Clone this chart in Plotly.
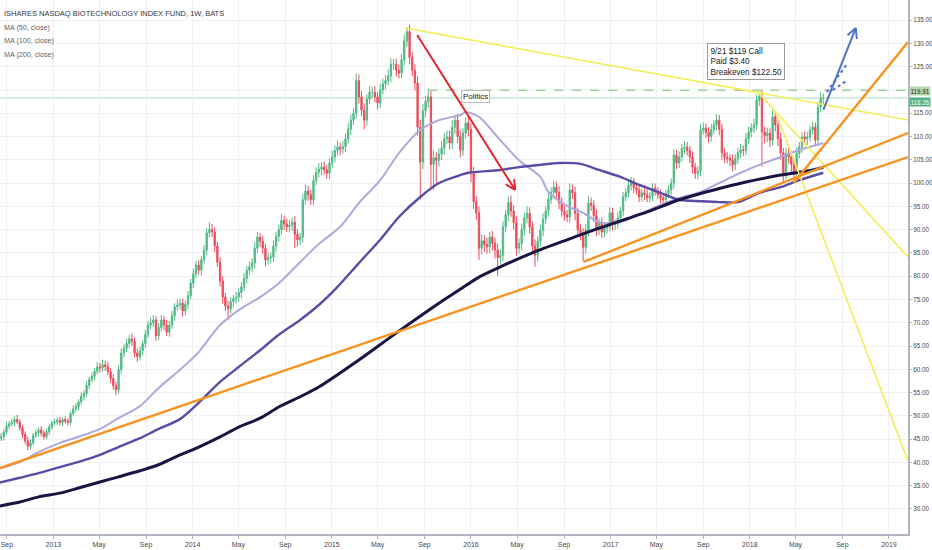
import math
import pandas as pd
import plotly.graph_objects as go

# ---------------- data ----------------
closes = [
    45.2, 45.5, 46.5, 47.8, 48.3, 48.6, 49.2, 48.7, 47.5, 46.0,
    44.6, 43.5, 44.2, 45.8, 46.4, 47.0, 46.3, 45.5, 46.6, 47.6,
    48.5, 48.7, 49.0, 48.6, 49.2, 48.9, 48.6, 50.5, 51.5, 52.0,
    53.0, 54.2, 54.8, 56.5, 57.8, 58.5, 59.6, 60.5, 60.3, 61.0,
    60.6, 59.5, 58.0, 56.5, 55.6, 59.9, 63.5, 64.5, 65.5, 66.5,
    66.0, 63.5, 62.7, 64.0, 65.5, 67.5, 69.5, 70.0, 70.6, 67.2,
    69.0, 70.6, 69.5, 68.0, 69.5, 71.5, 73.4, 73.8, 74.2, 72.5,
    74.0, 75.8, 78.5, 80.5, 82.4, 81.3, 83.5, 85.6, 89.3, 90.0,
    89.5, 86.5, 83.0, 79.0, 75.5, 73.6, 73.0, 74.5, 75.2, 75.5,
    76.5, 77.7, 79.5, 81.3, 82.0, 82.8, 86.0, 88.4, 87.5, 86.0,
    83.5, 84.0, 84.1, 86.5, 88.5, 90.0, 92.0, 91.2, 90.6, 91.0,
    91.6, 89.0, 87.8, 88.4, 96.4, 98.3, 97.5, 96.4, 100.5, 102.3,
    103.0, 103.4, 102.8, 102.1, 104.3, 105.6, 107.0, 107.7, 107.3, 107.8,
    109.5, 111.6, 113.5, 115.0, 122.0, 118.5, 115.7, 113.5, 118.0, 119.5,
    119.5, 118.5, 117.2, 120.0, 121.3, 122.0, 123.0, 125.5, 125.5, 124.2,
    123.6, 126.5, 130.5, 132.5, 127.0, 124.2, 121.5, 112.0, 104.5, 115.5,
    117.5, 118.5, 104.0, 105.4, 104.9, 106.2, 107.5, 109.5, 109.9, 108.6,
    112.0, 113.5, 110.0, 107.1, 110.7, 112.9, 111.5, 102.0, 96.0, 93.6,
    86.0, 87.6, 86.8, 86.3, 88.4, 87.1, 85.6, 84.0, 84.5, 90.6,
    93.2, 95.8, 94.0, 91.5, 86.0, 87.0, 90.0, 92.5, 93.5, 90.6,
    86.5, 84.5, 87.5, 89.8, 92.3, 94.0, 96.5, 98.0, 99.1, 98.0,
    95.8, 94.0, 93.2, 92.7, 98.5, 97.9, 93.5, 90.0, 89.3, 86.2,
    89.9, 95.7, 95.2, 93.0, 89.9, 91.4, 89.5, 90.3, 90.6, 93.6,
    91.0, 91.2, 92.5, 94.0, 97.0, 97.9, 99.5, 100.2, 99.0, 98.5,
    97.0, 97.9, 97.5, 96.8, 97.2, 98.9, 98.2, 97.5, 96.8, 96.4,
    97.7, 98.5, 100.0, 106.0, 104.3, 105.6, 107.4, 107.7, 107.0, 105.6,
    103.4, 102.1, 102.5, 111.4, 111.8, 110.9, 110.0, 111.5, 112.5, 113.5,
    111.5, 106.5, 105.5, 105.3, 104.9, 103.9, 105.2, 106.5, 107.1, 107.0,
    109.5, 111.0, 111.8, 112.5, 117.8, 118.6, 111.0, 110.2, 110.7, 109.2,
    114.2, 112.5, 109.5, 106.5, 102.1, 106.4, 105.6, 104.0, 102.1, 106.4,
    107.7, 109.9, 109.5, 109.9, 111.4, 112.0, 109.2, 116.3, 118.2, 118.26,
]
first_open = 44.8

wick_up = [
    0.6, 0.8, 0.7, 0.9, 0.6, 0.8, 0.7, 1.0, 0.6, 0.5,
    0.7, 0.9, 0.8, 0.6, 0.7, 0.5, 0.8, 0.6, 0.7, 0.6,
    0.5, 0.7, 0.6, 0.8, 0.5, 0.7, 0.6, 0.5, 0.8, 0.7,
    0.6, 0.8, 0.7, 0.9, 0.6, 0.8, 0.7, 1.0, 0.9, 1.1,
    0.8, 1.0, 0.7, 0.9, 0.8, 0.9, 1.0, 0.8, 1.1, 0.9,
    1.2, 0.8, 1.0, 0.9, 0.8, 1.0, 0.9, 1.1, 1.0, 0.8,
    0.9, 1.0, 0.8, 1.1, 0.9, 1.0, 0.8, 1.2, 0.9, 1.0,
    0.8, 1.0, 0.9, 1.1, 0.9, 1.0, 0.8, 1.1, 1.0, 1.6,
    1.2, 1.0, 0.9, 1.1, 1.0, 0.9, 1.2, 1.0, 0.8, 1.1,
    0.9, 1.0, 1.2, 0.9, 1.1, 1.0, 1.3, 1.1, 0.9, 1.2,
    1.0, 1.1, 0.9, 1.2, 1.0, 1.1, 1.3, 1.0, 1.2, 1.1,
    1.0, 1.3, 1.1, 0.9, 1.2, 1.4, 1.1, 1.0, 1.2, 1.1,
    1.3, 1.0, 1.2, 1.1, 1.0, 1.3, 1.1, 1.4, 1.0, 1.2,
    1.1, 1.3, 1.2, 1.0, 1.5, 1.3, 1.2, 1.4, 1.1, 1.3,
    1.2, 1.4, 1.0, 1.3, 1.1, 1.2, 1.4, 1.3, 1.1, 1.2,
    1.3, 1.2, 1.4, 0.9, 1.5, 1.2, 1.3, 1.4, 1.6, 1.5,
    1.2, 1.8, 1.4, 1.6, 1.2, 1.3, 1.5, 1.2, 1.4, 1.3,
    1.5, 1.2, 1.4, 1.3, 1.1, 1.2, 1.4, 1.3, 1.5, 1.2,
    1.4, 1.3, 1.2, 1.5, 1.1, 1.3, 1.2, 1.4, 1.3, 1.2,
    1.1, 1.3, 1.5, 1.2, 1.4, 1.1, 1.3, 1.2, 1.5, 1.3,
    1.2, 1.4, 1.1, 1.3, 1.2, 1.0, 1.3, 1.1, 1.4, 1.2,
    1.3, 1.1, 1.2, 1.0, 1.4, 1.2, 1.3, 1.1, 1.2, 1.0,
    1.3, 1.5, 1.2, 1.1, 1.3, 1.0, 1.2, 1.1, 1.0, 1.2,
    1.1, 1.0, 1.2, 0.9, 1.1, 1.0, 1.2, 1.1, 0.9, 1.0,
    1.1, 0.9, 1.0, 1.2, 0.9, 1.1, 1.0, 0.9, 1.1, 1.0,
    0.9, 1.1, 1.0, 1.3, 1.1, 1.2, 1.0, 1.3, 1.1, 1.0,
    1.2, 1.0, 1.1, 1.3, 1.2, 1.0, 1.1, 1.2, 1.0, 1.3,
    1.1, 1.2, 1.0, 1.1, 0.9, 1.2, 1.0, 1.1, 1.3, 1.0,
    1.2, 1.1, 1.0, 1.3, 1.2, 1.0, 1.4, 1.1, 1.2, 1.0,
    1.5, 1.2, 1.1, 1.3, 1.0, 1.2, 1.1, 1.3, 1.0, 1.2,
    1.1, 1.0, 1.2, 1.1, 0.9, 1.2, 1.0, 1.1, 1.3, 1.0,
]
wick_dn = [
    0.7, 0.6, 0.8, 0.5, 0.7, 0.6, 0.8, 0.5, 0.7, 0.8,
    0.6, 0.9, 0.7, 0.5, 0.6, 0.8, 0.7, 0.6, 0.5, 0.7,
    0.6, 0.5, 0.7, 0.6, 0.8, 0.5, 0.7, 0.6, 0.5, 0.7,
    0.8, 0.6, 0.9, 0.7, 0.8, 0.6, 0.9, 0.7, 1.0, 0.8,
    0.9, 0.8, 1.0, 0.9, 1.2, 0.8, 0.9, 1.0, 0.8, 0.9,
    1.0, 0.9, 1.1, 0.8, 1.0, 0.9, 0.8, 1.0, 0.9, 1.1,
    1.0, 0.8, 1.1, 0.9, 1.0, 0.8, 1.1, 0.9, 1.0, 1.2,
    0.9, 1.0, 0.8, 1.1, 0.9, 1.0, 1.2, 0.9, 1.1, 1.0,
    1.1, 1.3, 1.0, 1.2, 1.4, 1.1, 2.5, 1.0, 1.2, 1.1,
    1.0, 1.2, 0.9, 1.1, 1.0, 1.2, 1.1, 1.0, 1.3, 1.2,
    1.4, 1.1, 1.3, 1.0, 1.2, 1.1, 1.0, 1.3, 1.1, 1.2,
    1.3, 3.0, 1.4, 1.1, 1.2, 1.0, 1.3, 1.1, 1.2, 1.0,
    1.1, 1.3, 1.0, 1.2, 1.1, 1.0, 1.2, 1.1, 1.3, 1.0,
    1.2, 1.1, 1.3, 1.0, 1.2, 1.4, 1.3, 2.0, 1.2, 1.1,
    1.3, 1.2, 1.4, 1.1, 1.0, 1.2, 1.1, 1.3, 1.2, 1.4,
    1.2, 1.1, 1.3, 1.2, 1.5, 1.3, 1.6, 1.8, 8.0, 1.5,
    1.4, 1.3, 5.0, 5.5, 5.0, 1.4, 1.3, 1.5, 1.2, 1.4,
    1.3, 1.5, 1.4, 1.6, 1.3, 1.2, 1.5, 1.8, 1.6, 1.5,
    2.5, 1.4, 1.6, 1.5, 1.3, 1.6, 1.8, 4.0, 1.5, 1.3,
    1.2, 1.4, 1.3, 1.5, 1.6, 1.2, 1.4, 1.3, 1.2, 1.5,
    1.6, 2.5, 1.4, 1.2, 1.3, 1.1, 1.2, 1.0, 1.3, 1.2,
    1.4, 1.2, 1.3, 1.1, 1.2, 1.3, 1.5, 1.4, 1.6, 3.0,
    1.4, 1.3, 1.2, 1.4, 1.3, 1.1, 1.3, 1.2, 1.1, 1.0,
    1.2, 1.1, 1.0, 1.2, 1.1, 0.9, 1.0, 1.1, 1.2, 1.0,
    1.1, 1.0, 1.2, 0.9, 1.0, 1.1, 0.9, 1.0, 1.2, 1.1,
    1.0, 0.9, 1.1, 1.2, 1.3, 1.1, 1.0, 1.2, 1.1, 1.3,
    1.4, 1.2, 1.3, 1.1, 1.0, 1.2, 1.3, 1.1, 1.0, 1.2,
    1.3, 1.5, 1.2, 1.1, 1.3, 1.4, 1.2, 1.0, 1.1, 1.2,
    1.0, 1.1, 1.2, 1.0, 1.1, 1.3, 7.5, 1.6, 1.4, 1.5,
    1.2, 1.4, 1.6, 1.5, 1.8, 1.3, 1.4, 1.6, 1.5, 1.2,
    1.1, 1.2, 1.0, 1.3, 1.1, 1.0, 1.4, 1.2, 1.1, 1.3,
]
last_bar_date = "2018-07-13"

# moving averages, sampled at week indices of the candle series
ma50_week = [0, 8, 15, 23, 30, 38, 45, 53, 60, 68, 75, 83, 90, 98, 105, 113, 120, 128, 135, 143,
             150, 158, 165, 173, 175, 180, 188, 195, 203, 206, 213, 219, 225, 233, 240, 248, 255,
             263, 270, 278, 285, 293, 300, 309]
ma50_val = [38.6, 40.1, 42.2, 44.2, 45.5, 47.2, 49.5, 52.1, 56.0, 59.9, 63.7, 69.5, 72.7, 75.5, 78.5,
            83.0, 86.9, 90.6, 95.7, 100.6, 106.4, 111.4, 113.5, 114.6, 115.2, 114.2, 109.2, 104.9,
            101.3, 98.1, 95.1, 93.6, 91.6, 91.6, 93.3, 95.3, 96.8, 98.1, 100.0, 102.2, 103.9, 105.6,
            107.1, 108.6]
ma100_week = [0, 8, 15, 23, 30, 38, 45, 53, 60, 68, 75, 83, 90, 98, 105, 113, 120, 127, 135, 143,
              150, 158, 165, 173, 176, 188, 195, 203, 210, 218, 225, 233, 240, 248, 255, 263, 270,
              277, 285, 293, 300, 309]
ma100_val = [35.6, 36.7, 37.7, 39.0, 40.1, 41.6, 43.3, 45.2, 47.2, 49.3, 52.8, 57.3, 60.5, 64.1, 67.4,
             70.6, 73.8, 77.7, 82.8, 87.8, 92.7, 97.0, 100.0, 101.7, 102.2, 102.8, 103.4, 103.9,
             104.3, 104.1, 102.8, 101.3, 99.6, 97.9, 96.4, 96.1, 95.9, 95.9, 97.9, 99.1, 100.6, 102.2]
ma200_week = [0, 8, 15, 23, 30, 38, 45, 53, 60, 68, 75, 83, 90, 98, 105, 113, 120, 135, 150, 165,
              172, 180, 188, 200, 213, 225, 243, 255, 268, 280, 293, 305, 309]
ma200_val = [30.6, 31.5, 32.6, 33.4, 34.5, 35.8, 36.9, 38.2, 39.5, 41.6, 43.3, 45.5, 47.6, 49.5, 51.9,
             54.1, 56.2, 62.0, 68.2, 74.2, 76.8, 79.8, 82.0, 85.0, 87.8, 90.3, 93.8, 96.4, 98.5,
             100.2, 101.7, 102.8, 103.4]

# drawn trend lines: (start date, start price) -> (end date, end price)
trend_x0 = ["2015-07-13", "2018-01-22", "2018-03-10", "2012-08-14", "2016-10-22", "2018-04-26"]
trend_y0 = [133.28, 119.54, 115.25, 38.8, 83.04, 100.0]
trend_x1 = ["2019-02-20", "2019-02-20", "2019-02-20", "2019-02-20", "2019-02-20", "2019-02-20"]
trend_y1 = [113.53, 84.11, 40.3, 105.58, 110.74, 130.28]
trend_kind = ["yellow", "yellow", "yellow", "orange", "orange", "orange"]

# arrows
red_arrow = [("2015-08-13", 131.78), ("2016-04-26", 98.5)]
blue_arrow = [("2018-07-13", 115.68), ("2018-10-06", 133.28)]
blue_dots_x0 = ["2018-07-22", "2018-08-07"]
blue_dots_y0 = [119.54, 119.97]
blue_dots_x1 = ["2018-09-15", "2018-09-15"]
blue_dots_y1 = [125.77, 122.12]

# price levels
level_high = 119.91
level_last = 118.26
level_high_start = "2015-09-11"

# notes
politics_pos = ("2016-01-13", 118.62)
call_pos = ("2017-09-10", 130.06)
call_text = "9/21 $119 Call<br>Paid $3.40<br>Breakeven $122.50"

# axes
x_range = ["2012-08-14", "2019-02-20"]
y_range = [24.63, 139.30]
x_tick_dates = ["2012-09-01", "2013-01-01", "2013-05-01", "2013-09-01", "2014-01-01", "2014-05-01",
                "2014-09-01", "2015-01-01", "2015-05-01", "2015-09-01", "2016-01-01", "2016-05-01",
                "2016-09-01", "2017-01-01", "2017-05-01", "2017-09-01", "2018-01-01", "2018-05-01",
                "2018-09-01", "2019-01-01"]
x_tick_labels = ["Sep", "2013", "May", "Sep", "2014", "May", "Sep", "2015", "May", "Sep", "2016",
                 "May", "Sep", "2017", "May", "Sep", "2018", "May", "Sep", "2019"]
y_tick_vals = [30, 35, 40, 45, 50, 55, 60, 65, 70, 75, 80, 85, 90, 95, 100, 105, 110, 115,
               125, 130, 135]
y_hidden_grid = [120]

header_lines = ["ISHARES NASDAQ BIOTECHNOLOGY INDEX FUND, 1W, BATS",
                "MA (50, close)", "MA (100, close)", "MA (200, close)"]

# ---------------- build ----------------
W, H = 932, 550
ML, MR, MT, MB = 0, 24, 0, 16
PW, PH = W - ML - MR, H - MT - MB

FONT = "Liberation Sans, Arial, sans-serif"
UP, DOWN = "#53b987", "#eb4d5c"
YELLOW, ORANGE = "#f4ee55", "#f7931e"
AXIS = "#b2b5be"
GRID = "#eef0f5"

dates = pd.date_range(end=last_bar_date, periods=len(closes), freq="7D")
opens = [first_open] + closes[:-1]
highs = [max(o, c) + u for o, c, u in zip(opens, closes, wick_up)]
lows = [min(o, c) - d for o, c, d in zip(opens, closes, wick_dn)]

fig = go.Figure()
fig.add_trace(go.Candlestick(
    x=dates, open=opens, high=highs, low=lows, close=closes,
    increasing=dict(line=dict(color=UP, width=1), fillcolor=UP),
    decreasing=dict(line=dict(color=DOWN, width=1), fillcolor=DOWN),
    whiskerwidth=0, hoverinfo="skip", showlegend=False,
))

for weeks, vals, color, width in [
    (ma50_week, ma50_val, "#b2a7dc", 2.0),
    (ma100_week, ma100_val, "#5a4ca6", 2.4),
    (ma200_week, ma200_val, "#1a1444", 3.0),
]:
    fig.add_trace(go.Scatter(
        x=[dates[i] for i in weeks], y=vals, mode="lines",
        line=dict(color=color, width=width, shape="spline", smoothing=0.8),
        hoverinfo="skip", showlegend=False,
    ))

shapes = []
for gv in y_hidden_grid:
    shapes.append(dict(type="line", xref="paper", yref="y", x0=0, x1=1, y0=gv, y1=gv,
                       line=dict(color=GRID, width=1), layer="below"))
# price level lines
shapes.append(dict(type="line", xref="paper", yref="y", x0=0, x1=1, y0=level_last, y1=level_last,
                   line=dict(color="#a9dccb", width=1), layer="below"))
shapes.append(dict(type="line", xref="x", yref="y", x0=level_high_start, x1=x_range[1],
                   y0=level_high, y1=level_high,
                   line=dict(color="#9fcf9a", width=1.6, dash="dash")))

for x0, y0, x1, y1, kind in zip(trend_x0, trend_y0, trend_x1, trend_y1, trend_kind):
    col, wd = (YELLOW, 1.6) if kind == "yellow" else (ORANGE, 2.4)
    shapes.append(dict(type="line", xref="x", yref="y", x0=x0, y0=y0, x1=x1, y1=y1,
                       line=dict(color=col, width=wd)))

# pixel <-> data helpers for arrow heads
t0 = pd.Timestamp(x_range[0])
span_days = (pd.Timestamp(x_range[1]) - t0).total_seconds() / 86400.0
px_per_day = PW / span_days
px_per_unit = PH / (y_range[1] - y_range[0])


def to_px(d, v):
    return ((pd.Timestamp(d) - t0).total_seconds() / 86400.0 * px_per_day,
            (y_range[1] - v) * px_per_unit)


def to_data(px, py):
    return (t0 + pd.Timedelta(days=px / px_per_day), y_range[1] - py / px_per_unit)


def add_arrow(start, end, color, width, head=11, ang=27):
    shapes.append(dict(type="line", xref="x", yref="y", x0=start[0], y0=start[1],
                       x1=end[0], y1=end[1], line=dict(color=color, width=width)))
    sx, sy = to_px(*start)
    ex, ey = to_px(*end)
    dx, dy = sx - ex, sy - ey
    n = math.hypot(dx, dy)
    dx, dy = dx / n, dy / n
    for a in (ang, -ang):
        r = math.radians(a)
        wx = dx * math.cos(r) - dy * math.sin(r)
        wy = dx * math.sin(r) + dy * math.cos(r)
        hx, hy = to_data(ex + wx * head, ey + wy * head)
        shapes.append(dict(type="line", xref="x", yref="y", x0=end[0], y0=end[1],
                           x1=hx, y1=hy, line=dict(color=color, width=width)))


add_arrow(red_arrow[0], red_arrow[1], "#e3262e", 2.0)
add_arrow(blue_arrow[0], blue_arrow[1], "#4d74c4", 2.0)
for x0, y0, x1, y1 in zip(blue_dots_x0, blue_dots_y0, blue_dots_x1, blue_dots_y1):
    shapes.append(dict(type="line", xref="x", yref="y", x0=x0, y0=y0, x1=x1, y1=y1,
                       line=dict(color="#4d74c4", width=2, dash="dot")))

annotations = []
header_sizes = [7.5, 7.2, 7.2, 7.2]
for i, txt in enumerate(header_lines):
    annotations.append(dict(
        xref="paper", yref="paper", x=3 / PW, y=1 - (14 + 13.5 * i) / PH,
        xanchor="left", yanchor="middle", showarrow=False, text=txt, borderpad=0,
        font=dict(family=FONT, size=header_sizes[i], color="#33363f" if i == 0 else "#5f626c"),
    ))
annotations.append(dict(
    x=politics_pos[0], y=politics_pos[1], xref="x", yref="y", showarrow=False,
    text="Politics", font=dict(family=FONT, size=8, color="#222222"),
    bgcolor="#ffffff", bordercolor="#b8b8b8", borderwidth=1, borderpad=1,
))
annotations.append(dict(
    x=call_pos[0], y=call_pos[1], xref="x", yref="y", showarrow=False,
    xanchor="left", yanchor="top", align="left", text=call_text,
    font=dict(family=FONT, size=8.2, color="#222222"),
    bgcolor="rgba(255,255,255,0.92)", bordercolor="#9a9a9a", borderwidth=1, borderpad=2.5,
))
annotations.append(dict(
    xref="paper", yref="y", x=1, y=level_high, xanchor="left", yanchor="middle", xshift=1,
    yshift=-1, showarrow=False, text=f"{level_high:.2f}",
    font=dict(family=FONT, size=6.3, color="#1c1c1c"), bgcolor="#b4dab0", borderpad=0.5,
))
annotations.append(dict(
    xref="paper", yref="y", x=1, y=level_last, xanchor="left", yanchor="middle", xshift=1,
    yshift=-4.5, showarrow=False, text=f"{level_last:.2f}",
    font=dict(family=FONT, size=6.3, color="#ffffff"), bgcolor="#4fb283", borderpad=0.5,
))

fig.update_layout(
    width=W, height=H, margin=dict(l=ML, r=MR, t=MT, b=MB),
    paper_bgcolor="white", plot_bgcolor="white", showlegend=False,
    shapes=shapes, annotations=annotations, hovermode=False,
    xaxis=dict(type="date", range=x_range, tickvals=x_tick_dates, ticktext=x_tick_labels,
               showline=True, linecolor=AXIS, linewidth=2, ticks="outside", ticklen=3,
               tickcolor=AXIS, showgrid=True, gridcolor=GRID, gridwidth=1, zeroline=False,
               rangeslider=dict(visible=False),
               tickfont=dict(family=FONT, size=7, color="#44474f")),
    yaxis=dict(side="right", range=y_range, tickvals=y_tick_vals,
               ticktext=[f"{v:.2f}" for v in y_tick_vals],
               showline=True, linecolor=AXIS, linewidth=2, ticks="outside", ticklen=2,
               tickcolor=AXIS, showgrid=True, gridcolor=GRID, gridwidth=1, zeroline=False,
               tickfont=dict(family=FONT, size=6.3, color="#44474f")),
)

fig.write_html(
    "out.html",
    config={"displayModeBar": False, "staticPlot": True},
    post_script="document.body.style.margin='0';document.body.style.overflow='hidden';",
)
